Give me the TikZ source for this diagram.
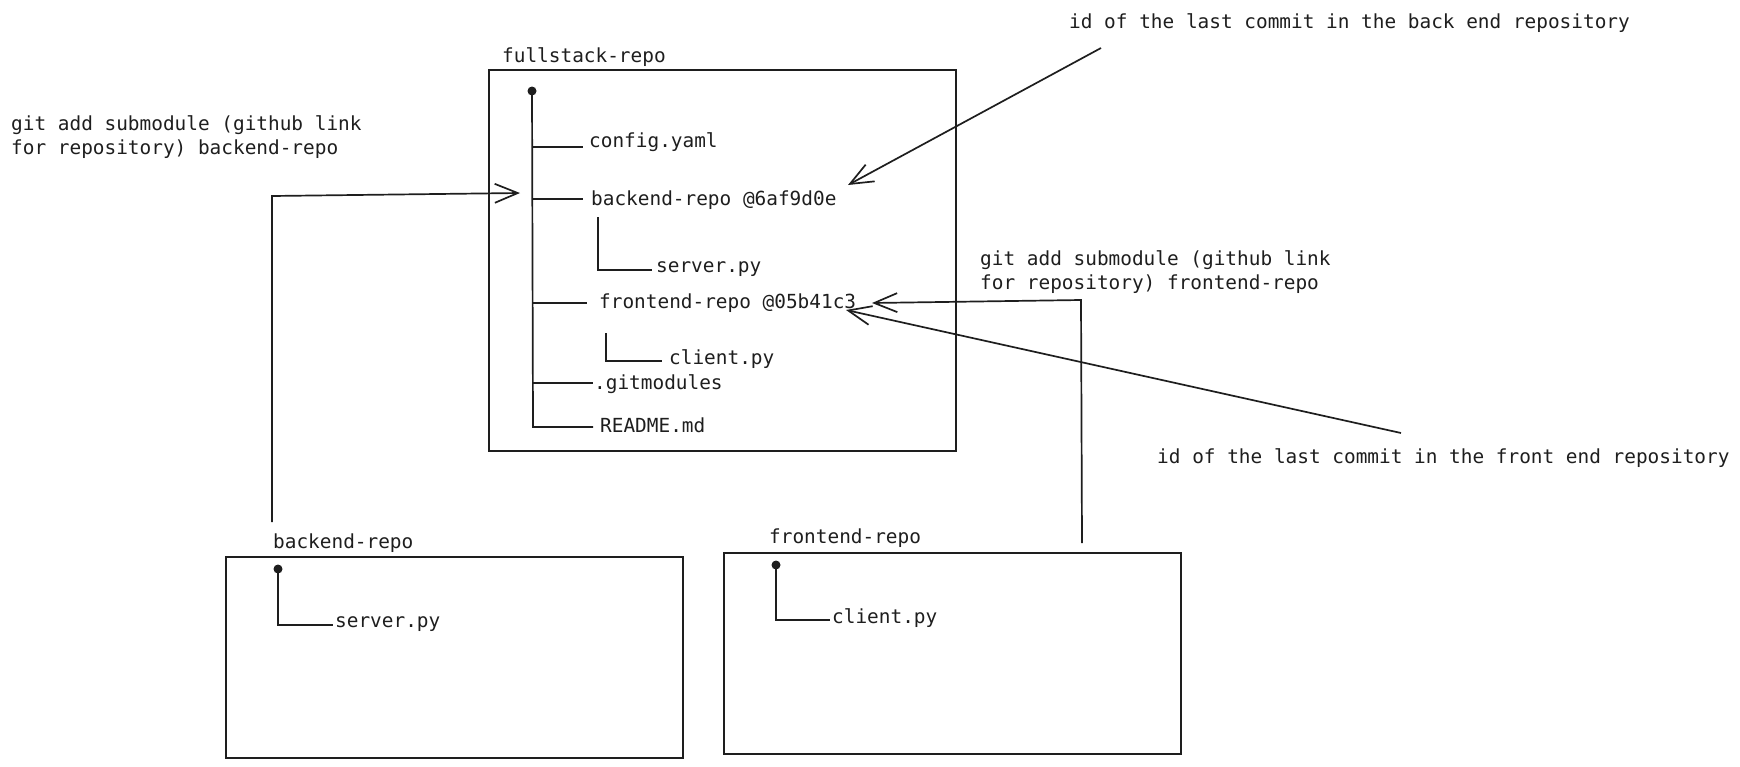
\documentclass[tikz,border=0pt]{standalone}
\usepackage{fontspec}
\setmonofont{DejaVu Sans Mono}
\usetikzlibrary{arrows.meta}
\definecolor{ink}{HTML}{1E1E1E}
\begin{document}
\begin{tikzpicture}[x=1pt,y=-1pt,
  lbl/.style={inner sep=0pt, anchor=base west, font=\ttfamily\fontsize{19.4}{24}\selectfont, text=ink, align=left},
  boxnode/.style={draw=ink, line width=1.7pt, anchor=north west, inner sep=0pt},
  ln/.style={draw=ink, line width=1.7pt},
  arr/.style={ln, -{Straight Barb[length=23pt,width=19pt]}},
  rootdot/.style={circle, fill=ink, inner sep=0pt, minimum size=9pt}
]
\useasboundingbox (0,0) rectangle (1740,766);

% boxes
\node[boxnode, minimum width=467pt, minimum height=381pt] (full) at (488,69) {};
\node[boxnode, minimum width=457pt, minimum height=201pt] (back) at (225,556) {};
\node[boxnode, minimum width=457pt, minimum height=201pt] (front) at (723,552) {};

% labels
\node[lbl] (fulllbl) at (502,62) {fullstack-repo};
\node[lbl] (cfg) at (589,147) {config.yaml};
\node[lbl] (bref) at (591,205) {backend-repo @6af9d0e};
\node[lbl] (srv1) at (656,272) {server.py};
\node[lbl] (fref) at (599,308) {frontend-repo @05b41c3};
\node[lbl] (cli1) at (669,364) {client.py};
\node[lbl] (gitm) at (594,389) {.gitmodules};
\node[lbl] (readme) at (600,432) {README.md};
\node[lbl] (backlbl) at (273,548) {backend-repo};
\node[lbl] (srv2) at (335,627) {server.py};
\node[lbl] (frontlbl) at (769,543) {frontend-repo};
\node[lbl] (cli2) at (832,623) {client.py};
\node[lbl] (cmdback) at (11,154) {git add submodule (github link\\for repository) backend-repo};
\node[lbl] (cmdfront) at (980,289) {git add submodule (github link\\for repository) frontend-repo};
\node[lbl] (idback) at (1069,28) {id of the last commit in the back end repository};
\node[lbl] (idfront) at (1157,463) {id of the last commit in the front end repository};

% root dots
\node[rootdot] (r1) at (532,91) {};
\node[rootdot] (r2) at (278,569) {};
\node[rootdot] (r3) at (776,565) {};

% tree coordinates
\coordinate (t1) at (532,147); \coordinate (e1) at (583,147);
\coordinate (t2) at (532,199); \coordinate (e2) at (583,199);
\coordinate (s1a) at (598,217); \coordinate (s1b) at (598,270); \coordinate (s1c) at (652,270);
\coordinate (t3) at (532,303); \coordinate (e3) at (587,303);
\coordinate (c1a) at (606,333); \coordinate (c1b) at (606,361); \coordinate (c1c) at (662,361);
\coordinate (t4) at (533,383); \coordinate (e4) at (593,383);
\coordinate (t5) at (533,427); \coordinate (e5) at (593,427);
\coordinate (s2b) at (278,625); \coordinate (s2c) at (333,625);
\coordinate (c2b) at (776,620); \coordinate (c2c) at (830,620);

\draw[ln] (r1.center) -- (t5) -- (e5);
\draw[ln] (t1) -- (e1);
\draw[ln] (t2) -- (e2);
\draw[ln] (s1a) -- (s1b) -- (s1c);
\draw[ln] (t3) -- (e3);
\draw[ln] (c1a) -- (c1b) -- (c1c);
\draw[ln] (t4) -- (e4);
\draw[ln] (r2.center) -- (s2b) -- (s2c);
\draw[ln] (r3.center) -- (c2b) -- (c2c);

% arrows
\coordinate (ba0) at (272,522); \coordinate (ba1) at (272,196); \coordinate (ba2) at (520,193);
\draw[arr] (ba0) -- (ba1) -- (ba2);
\coordinate (fa0) at (1082,543); \coordinate (fa1) at (1081,300); \coordinate (fa2) at (872,303);
\draw[arr] (fa0) -- (fa1) -- (fa2);
\coordinate (ib0) at (1101,48); \coordinate (ib1) at (848,185);
\draw[arr] (ib0) -- (ib1);
\coordinate (if0) at (1401,433); \coordinate (if1) at (846,310);
\draw[arr] (if0) -- (if1);
\end{tikzpicture}
\end{document}
